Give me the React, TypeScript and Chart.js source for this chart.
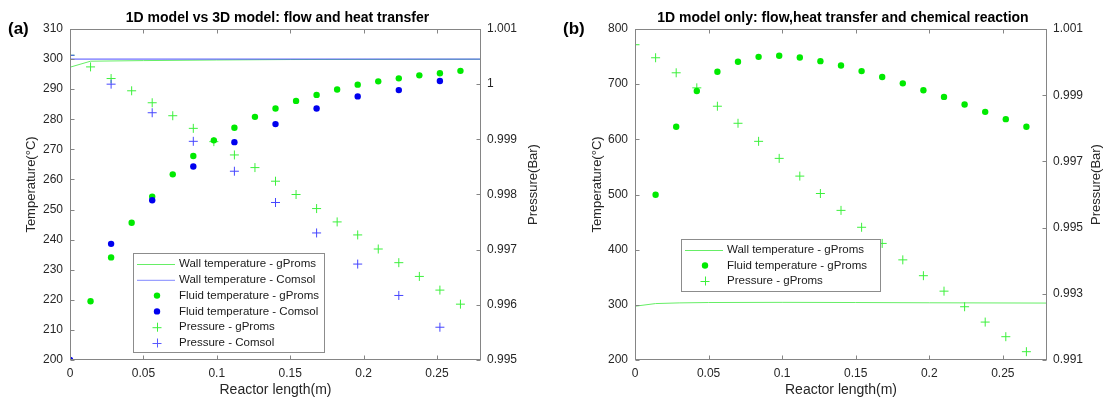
import React, { useEffect, useRef } from "react";
import { Chart, registerables } from "chart.js";

Chart.register(...registerables);

const FONT = "'Liberation Sans', Arial, Helvetica, sans-serif";
const TICK_COLOR = "#262626";
const AXIS_COLOR = "#858585";
const GREEN_DOT = "#00ea00";
const GREEN_CROSS = "#3cf03c";
const GREEN_LINE = "#66ee66";
const BLUE_DOT = "#0000ee";
const BLUE_CROSS = "#4646ff";
const BLUE_LINE = "#4c4cff";

// ---------------- shared x axis ----------------
const xTickValues = [0, 0.05, 0.1, 0.15, 0.2, 0.25];
const xTickLabels = ["0", "0.05", "0.1", "0.15", "0.2", "0.25"];

// ---------------- Panel (a): 1D vs 3D ----------------
const tempTicksA = [200, 210, 220, 230, 240, 250, 260, 270, 280, 290, 300, 310];
const tempTickLabelsA = ["200", "210", "220", "230", "240", "250", "260", "270", "280", "290", "300", "310"];
const pressTicksA = [0.995, 0.996, 0.997, 0.998, 0.999, 1.0, 1.001];
const pressTickLabelsA = ["0.995", "0.996", "0.997", "0.998", "0.999", "1", "1.001"];

const wallXA_gp = [0, 0.014, 0.05, 0.1, 0.15, 0.28];
const wallA_gp = [297.3, 299.3, 299.5, 299.7, 299.85, 299.95];
const wallXA_cs = [0, 0.28];
const wallA_cs = [300, 300];

const fluidXA_gp = [0.014, 0.028, 0.042, 0.056, 0.07, 0.084, 0.098, 0.112, 0.126, 0.14, 0.154, 0.168, 0.182, 0.196, 0.21, 0.224, 0.238, 0.252, 0.266];
const fluidA_gp = [219.5, 234.1, 245.6, 254.3, 261.7, 267.8, 273.0, 277.2, 280.8, 283.6, 286.1, 288.1, 289.9, 291.5, 292.6, 293.6, 294.6, 295.3, 296.1];
const fluidXA_cs = [0, 0.028, 0.056, 0.084, 0.112, 0.14, 0.168, 0.196, 0.224, 0.252];
const fluidA_cs = [200, 238.6, 253.1, 264.3, 272.4, 278.4, 283.6, 287.6, 289.7, 292.7];

const pressXA_gp = [0, 0.014, 0.028, 0.042, 0.056, 0.07, 0.084, 0.098, 0.112, 0.126, 0.14, 0.154, 0.168, 0.182, 0.196, 0.21, 0.224, 0.238, 0.252, 0.266];
const pressA_gp = [1.000524, 1.000313, 1.000102, 0.99988, 0.999663, 0.999428, 0.999199, 0.998958, 0.998717, 0.998488, 0.998241, 0.998, 0.997745, 0.997503, 0.997267, 0.997012, 0.996764, 0.996515, 0.996267, 0.996012];
const pressXA_cs = [0, 0.028, 0.056, 0.084, 0.112, 0.14, 0.168, 0.196, 0.224, 0.252];
const pressA_cs = [1.000524, 1.0, 0.999482, 0.998964, 0.998422, 0.997855, 0.997303, 0.996739, 0.99617, 0.995594];

const legendLabelsA = [
  "Wall temperature - gProms",
  "Wall temperature - Comsol",
  "Fluid temperature - gProms",
  "Fluid temperature - Comsol",
  "Pressure - gProms",
  "Pressure - Comsol",
];

// ---------------- Panel (b): 1D only ----------------
const tempTicksB = [200, 300, 400, 500, 600, 700, 800];
const tempTickLabelsB = ["200", "300", "400", "500", "600", "700", "800"];
const pressTicksB = [0.991, 0.993, 0.995, 0.997, 0.999, 1.001];
const pressTickLabelsB = ["0.991", "0.993", "0.995", "0.997", "0.999", "1.001"];

const wallXB = [0, 0.014, 0.03, 0.05, 0.1, 0.15, 0.2, 0.28];
const wallB = [297.5, 302.3, 303.5, 304.2, 304.5, 304.2, 303.7, 303.2];

const fluidXB = [0.014, 0.028, 0.042, 0.056, 0.07, 0.084, 0.098, 0.112, 0.126, 0.14, 0.154, 0.168, 0.182, 0.196, 0.21, 0.224, 0.238, 0.252, 0.266];
const fluidB = [499.5, 622.8, 687.7, 722.5, 740.5, 749.5, 751.4, 748.4, 741.7, 733.9, 723.7, 712.9, 701.5, 688.9, 676.9, 663.1, 649.8, 636.6, 622.8];

const pressXB = [0, 0.014, 0.028, 0.042, 0.056, 0.07, 0.084, 0.098, 0.112, 0.126, 0.14, 0.154, 0.168, 0.182, 0.196, 0.21, 0.224, 0.238, 0.252, 0.266];
const pressB = [1.000525, 1.000131, 0.999677, 0.999222, 0.998667, 0.998152, 0.997606, 0.997091, 0.996556, 0.99603, 0.99552, 0.99501, 0.994522, 0.994025, 0.993547, 0.99308, 0.992609, 0.992146, 0.991704, 0.991251];

const legendLabelsB = ["Wall temperature - gProms", "Fluid temperature - gProms", "Pressure - gProms"];

// ---------------- helpers ----------------
const pts = (xs: number[], ys: number[]) => xs.map((x, i) => ({ x, y: ys[i] }));

type LegendItem = { kind: "line" | "dot" | "cross"; color: string; label: string };

interface PanelSpec {
  width: number;
  leftW: number;
  rightW: number;
  panelLabel: string;
  panelLabelX: number;
  title: string;
  tempMin: number;
  tempMax: number;
  tempTicks: number[];
  tempLabels: string[];
  pressMin: number;
  pressMax: number;
  pressTicks: number[];
  pressLabels: string[];
  datasets: any[];
  legend: LegendItem[];
  legendBox: { x: number; y: number; w: number; h: number; rowH: number };
  yTitleLeftX: number;
  yTitleRightX: number;
}

const TOP = 29;
const XAXIS_H = 41;
const HEIGHT = 401;

function lineDs(label: string, data: any[], color: string, order: number) {
  return {
    label,
    data,
    yAxisID: "yT",
    showLine: true,
    borderColor: color,
    borderWidth: 1,
    pointRadius: 0,
    pointHoverRadius: 0,
    fill: false,
    tension: 0,
    order,
  };
}
function dotDs(label: string, data: any[], color: string, order: number) {
  return {
    label,
    data,
    yAxisID: "yT",
    showLine: false,
    pointStyle: "circle",
    pointRadius: 3.2,
    pointBackgroundColor: color,
    pointBorderColor: color,
    pointBorderWidth: 0,
    backgroundColor: color,
    borderColor: color,
    order,
  };
}
function crossDs(label: string, data: any[], color: string, order: number) {
  return {
    label,
    data,
    yAxisID: "yP",
    showLine: false,
    pointStyle: "cross",
    pointRadius: 4.5,
    pointBorderColor: color,
    pointBorderWidth: 1,
    borderColor: color,
    backgroundColor: color,
    order,
  };
}

function decorPlugin(spec: PanelSpec) {
  return {
    id: "decor",
    afterDraw(chart: any) {
      const { ctx, chartArea: ca, scales } = chart;
      const L = Math.round(ca.left) + 0.5;
      const R = Math.round(ca.right) - 0.5;
      const T = Math.round(ca.top) + 0.5;
      const B = Math.round(ca.bottom) - 0.5;
      ctx.save();
      // frame
      ctx.strokeStyle = AXIS_COLOR;
      ctx.lineWidth = 1;
      ctx.strokeRect(L, T, R - L, B - T);
      // inner tick marks
      const tl = 4;
      ctx.beginPath();
      xTickValues.forEach((v) => {
        const px = Math.round(scales.x.getPixelForValue(v)) + 0.5;
        ctx.moveTo(px, B);
        ctx.lineTo(px, B - tl);
        ctx.moveTo(px, T);
        ctx.lineTo(px, T + tl);
      });
      spec.tempTicks.forEach((v) => {
        const py = Math.round(scales.yT.getPixelForValue(v)) + 0.5;
        ctx.moveTo(L, py);
        ctx.lineTo(L + tl, py);
      });
      spec.pressTicks.forEach((v) => {
        const py = Math.round(scales.yP.getPixelForValue(v)) + 0.5;
        ctx.moveTo(R, py);
        ctx.lineTo(R - tl, py);
      });
      ctx.stroke();

      // title
      ctx.fillStyle = "#000";
      ctx.font = `bold 14px ${FONT}`;
      ctx.textAlign = "center";
      ctx.textBaseline = "middle";
      ctx.fillText(spec.title, (ca.left + ca.right) / 2 + 2, 18);
      // panel label
      ctx.font = `bold 17px ${FONT}`;
      ctx.textAlign = "left";
      ctx.fillText(spec.panelLabel, spec.panelLabelX, 29);

      // axis titles
      ctx.fillStyle = TICK_COLOR;
      ctx.font = `14px ${FONT}`;
      ctx.textAlign = "center";
      ctx.fillText("Reactor length(m)", (ca.left + ca.right) / 2, 390);
      ctx.font = `13px ${FONT}`;
      const midY = (ca.top + ca.bottom) / 2 - 10;
      ctx.save();
      ctx.translate(spec.yTitleLeftX, midY);
      ctx.rotate(-Math.PI / 2);
      ctx.fillText("Temperature(°C)", 0, 0);
      ctx.restore();
      ctx.save();
      ctx.translate(spec.yTitleRightX, midY);
      ctx.rotate(-Math.PI / 2);
      ctx.fillText("Pressure(Bar)", 0, 0);
      ctx.restore();

      // legend
      const lb = spec.legendBox;
      ctx.fillStyle = "#fff";
      ctx.fillRect(lb.x, lb.y, lb.w, lb.h);
      ctx.strokeStyle = "#8c8c8c";
      ctx.lineWidth = 1;
      ctx.strokeRect(lb.x + 0.5, lb.y + 0.5, lb.w, lb.h);
      ctx.font = `11.5px ${FONT}`;
      ctx.textAlign = "left";
      ctx.textBaseline = "middle";
      spec.legend.forEach((it, i) => {
        const cy = lb.y + 11 + i * lb.rowH;
        const mx = lb.x + 24;
        if (it.kind === "line") {
          ctx.strokeStyle = it.color;
          ctx.lineWidth = 1.2;
          ctx.beginPath();
          ctx.moveTo(lb.x + 4, cy + 0.5);
          ctx.lineTo(lb.x + 42, cy + 0.5);
          ctx.stroke();
        } else if (it.kind === "dot") {
          ctx.fillStyle = it.color;
          ctx.beginPath();
          ctx.arc(mx, cy, 3.2, 0, Math.PI * 2);
          ctx.fill();
        } else {
          ctx.strokeStyle = it.color;
          ctx.lineWidth = 1;
          ctx.beginPath();
          ctx.moveTo(mx - 4.5, cy + 0.5);
          ctx.lineTo(mx + 4.5, cy + 0.5);
          ctx.moveTo(mx + 0.5, cy - 4.5);
          ctx.lineTo(mx + 0.5, cy + 4.5);
          ctx.stroke();
        }
        ctx.fillStyle = "#1a1a1a";
        ctx.fillText(it.label, lb.x + 46, cy);
      });
      ctx.restore();
    },
  };
}

function buildConfig(spec: PanelSpec): any {
  const tickFont = { family: FONT, size: 12 };
  return {
    type: "scatter",
    data: { datasets: spec.datasets },
    options: {
      responsive: false,
      animation: false,
      devicePixelRatio: 1,
      layout: { padding: { top: TOP, left: 0, right: 0, bottom: 0 } },
      plugins: { legend: { display: false }, tooltip: { enabled: false }, title: { display: false } },
      events: [],
      scales: {
        x: {
          type: "linear",
          min: 0,
          max: 0.28,
          grid: { display: false, drawTicks: false },
          border: { display: false },
          ticks: {
            font: tickFont,
            color: TICK_COLOR,
            padding: 6,
            maxRotation: 0,
            autoSkip: false,
            callback: (_v: any, i: number) => xTickLabels[i],
          },
          afterBuildTicks: (s: any) => {
            s.ticks = xTickValues.map((v) => ({ value: v }));
          },
          afterFit: (s: any) => {
            s.height = XAXIS_H;
          },
        },
        yT: {
          type: "linear",
          position: "left",
          min: spec.tempMin,
          max: spec.tempMax,
          grid: { display: false, drawTicks: false },
          border: { display: false },
          ticks: {
            font: tickFont,
            color: TICK_COLOR,
            padding: 7,
            autoSkip: false,
            callback: (_v: any, i: number) => spec.tempLabels[i],
          },
          afterBuildTicks: (s: any) => {
            s.ticks = spec.tempTicks.map((v) => ({ value: v }));
          },
          afterFit: (s: any) => {
            s.width = spec.leftW;
          },
        },
        yP: {
          type: "linear",
          position: "right",
          min: spec.pressMin,
          max: spec.pressMax,
          grid: { display: false, drawTicks: false },
          border: { display: false },
          ticks: {
            font: tickFont,
            color: TICK_COLOR,
            padding: 6,
            autoSkip: false,
            callback: (_v: any, i: number) => spec.pressLabels[i],
          },
          afterBuildTicks: (s: any) => {
            s.ticks = spec.pressTicks.map((v) => ({ value: v }));
          },
          afterFit: (s: any) => {
            s.width = spec.rightW;
          },
        },
      },
    },
    plugins: [decorPlugin(spec)],
  };
}

const specA: PanelSpec = {
  width: 552,
  leftW: 70,
  rightW: 71,
  panelLabel: "(a)",
  panelLabelX: 8,
  title: "1D model vs 3D model: flow and heat transfer",
  tempMin: 200,
  tempMax: 310,
  tempTicks: tempTicksA,
  tempLabels: tempTickLabelsA,
  pressMin: 0.995,
  pressMax: 1.001,
  pressTicks: pressTicksA,
  pressLabels: pressTickLabelsA,
  datasets: [
    dotDs(legendLabelsA[3], pts(fluidXA_cs, fluidA_cs), BLUE_DOT, 1),
    dotDs(legendLabelsA[2], pts(fluidXA_gp, fluidA_gp), GREEN_DOT, 2),
    crossDs(legendLabelsA[5], pts(pressXA_cs, pressA_cs), BLUE_CROSS, 3),
    crossDs(legendLabelsA[4], pts(pressXA_gp, pressA_gp), GREEN_CROSS, 4),
    lineDs(legendLabelsA[1], pts(wallXA_cs, wallA_cs), BLUE_LINE, 5),
    lineDs(legendLabelsA[0], pts(wallXA_gp, wallA_gp), GREEN_LINE, 6),
  ],
  legend: [
    { kind: "line", color: GREEN_LINE, label: legendLabelsA[0] },
    { kind: "line", color: "#9aa0ff", label: legendLabelsA[1] },
    { kind: "dot", color: GREEN_DOT, label: legendLabelsA[2] },
    { kind: "dot", color: BLUE_DOT, label: legendLabelsA[3] },
    { kind: "cross", color: GREEN_CROSS, label: legendLabelsA[4] },
    { kind: "cross", color: "#5a5aff", label: legendLabelsA[5] },
  ],
  legendBox: { x: 133, y: 253, w: 191, h: 99, rowH: 15.8 },
  yTitleLeftX: 31,
  yTitleRightX: 533,
};

const specB: PanelSpec = {
  width: 553,
  leftW: 83,
  rightW: 58,
  panelLabel: "(b)",
  panelLabelX: 11,
  title: "1D model only: flow,heat transfer and chemical reaction",
  tempMin: 200,
  tempMax: 800,
  tempTicks: tempTicksB,
  tempLabels: tempTickLabelsB,
  pressMin: 0.991,
  pressMax: 1.001,
  pressTicks: pressTicksB,
  pressLabels: pressTickLabelsB,
  datasets: [
    dotDs(legendLabelsB[1], pts(fluidXB, fluidB), GREEN_DOT, 1),
    crossDs(legendLabelsB[2], pts(pressXB, pressB), GREEN_CROSS, 2),
    lineDs(legendLabelsB[0], pts(wallXB, wallB), GREEN_LINE, 3),
  ],
  legend: [
    { kind: "line", color: GREEN_LINE, label: legendLabelsB[0] },
    { kind: "dot", color: GREEN_DOT, label: legendLabelsB[1] },
    { kind: "cross", color: GREEN_CROSS, label: legendLabelsB[2] },
  ],
  legendBox: { x: 129, y: 239, w: 199, h: 52, rowH: 15.5 },
  yTitleLeftX: 45,
  yTitleRightX: 544,
};

function Panel({ spec, left }: { spec: PanelSpec; left: number }) {
  const ref = useRef<HTMLCanvasElement | null>(null);
  useEffect(() => {
    if (!ref.current) return;
    const chart = new Chart(ref.current, buildConfig(spec));
    return () => chart.destroy();
  }, [spec]);
  return (
    <canvas
      ref={ref}
      width={spec.width}
      height={HEIGHT}
      style={{ position: "absolute", left, top: 0, width: spec.width, height: HEIGHT, display: "block" }}
    />
  );
}

export default function App() {
  return (
    <div style={{ position: "absolute", left: 0, top: 0, width: 1105, height: HEIGHT, background: "#fff", overflow: "hidden" }}>
      <Panel spec={specA} left={0} />
      <Panel spec={specB} left={552} />
    </div>
  );
}
